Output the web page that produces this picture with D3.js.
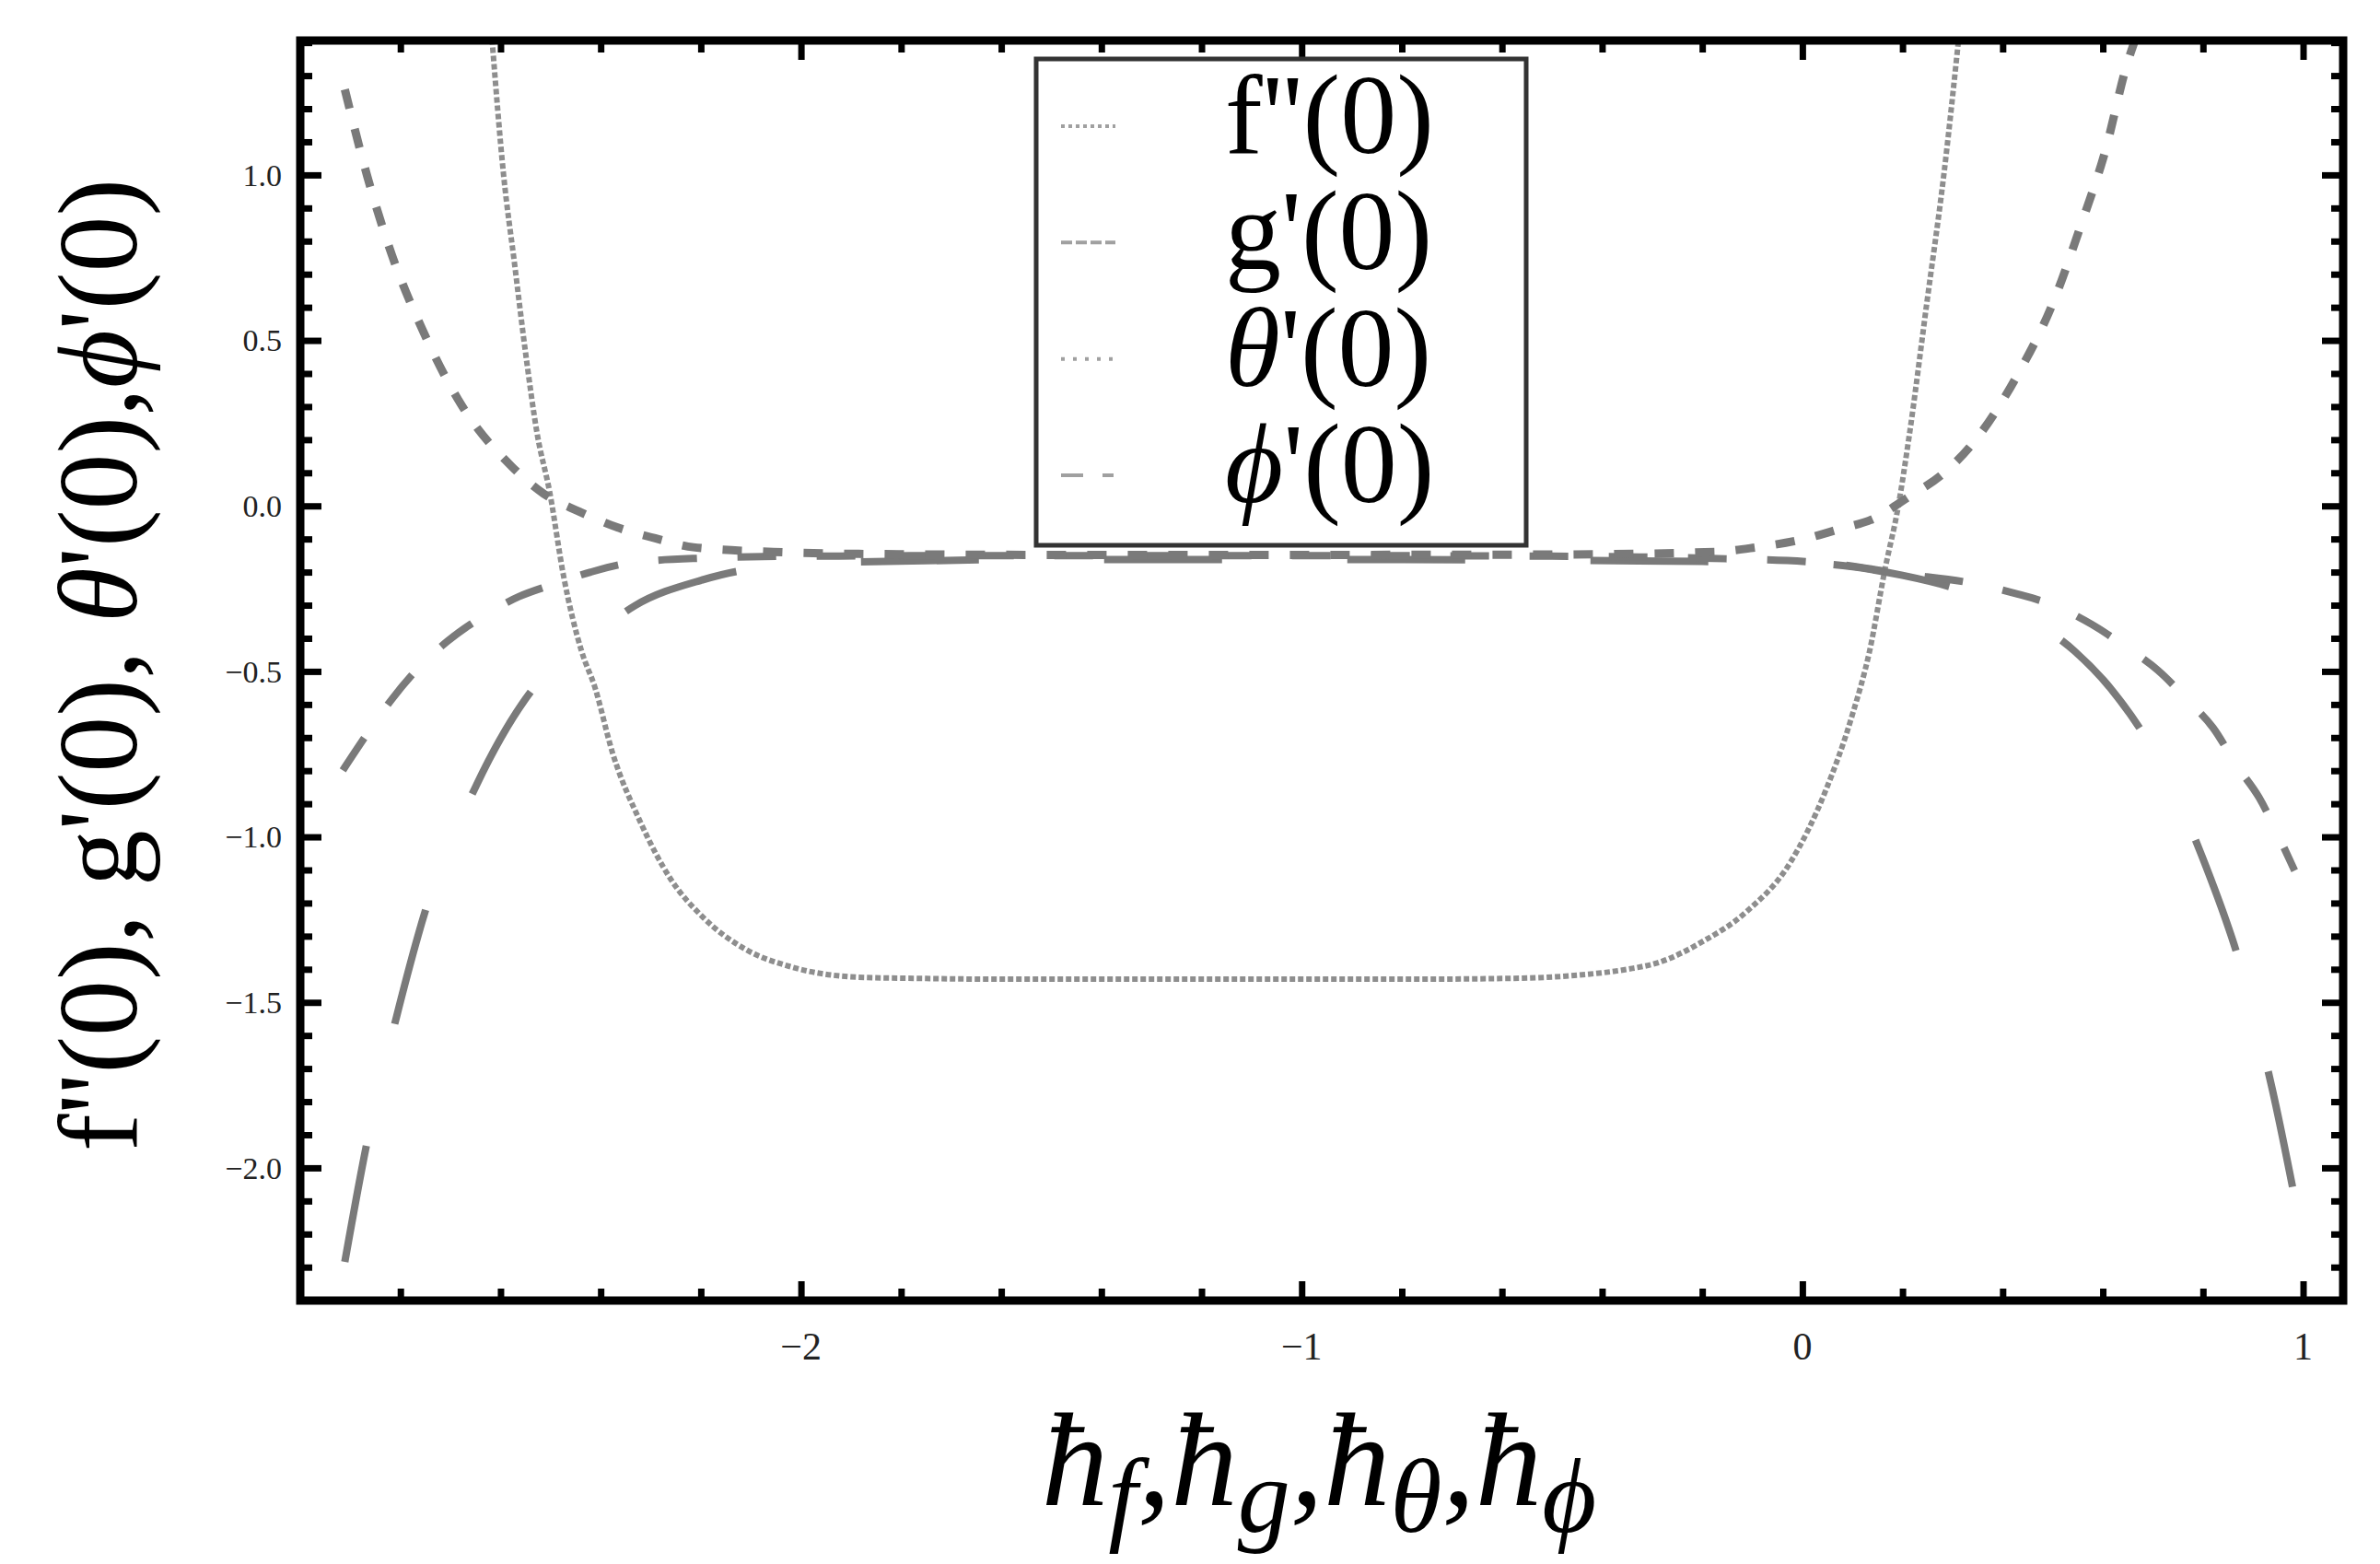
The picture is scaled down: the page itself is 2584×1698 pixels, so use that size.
<!DOCTYPE html>
<html>
<head>
<meta charset="utf-8">
<script src="https://cdn.jsdelivr.net/npm/d3@7"></script>
<style>
    html, body { margin: 0; padding: 0; background: #ffffff; }
    text { font-family: "Liberation Serif", "Times New Roman", serif; }
</style>
</head>
<body>
<svg id="chart" width="2584" height="1698"></svg>
<script>
// values (h on x, derivative at the wall on y)
const fppX = [-2.617, -2.594, -2.572, -2.550, -2.527, -2.502, -2.474, -2.438, -2.412, -2.376,
    -2.322, -2.260, -2.197, -2.108, -2.019, -1.885, -1.750, -1.600, -1.400, -1.200,
    -1.000, -0.800, -0.600, -0.450, -0.350, -0.288, -0.200, -0.113, -0.024, 0.046,
    0.099, 0.134, 0.165, 0.191, 0.213, 0.248, 0.283, 0.312];
const fppY = [1.41, 1.001, 0.731, 0.462, 0.219, 0.043, -0.213, -0.44, -0.546, -0.748,
    -0.951, -1.128, -1.241, -1.342, -1.393, -1.424, -1.428, -1.430, -1.430, -1.430,
    -1.430, -1.430, -1.428, -1.418, -1.400, -1.380, -1.317, -1.228, -1.077, -0.862,
    -0.635, -0.44, -0.191, -0.005, 0.208, 0.607, 1.007, 1.41];

const gpX = [-2.911, -2.866, -2.808, -2.746, -2.648, -2.527, -2.420, -2.331, -2.200, -2.108,
    -1.900, -1.500, -1.000, -0.500, -0.200, 0.033, 0.200, 0.327, 0.450, 0.543,
    0.620, 0.692, 0.798, 0.877, 0.939, 0.987];
const gpY = [-2.284, -1.918, -1.545, -1.203, -0.843, -0.537, -0.400, -0.301, -0.225, -0.193,
    -0.170, -0.162, -0.162, -0.164, -0.168, -0.175, -0.210, -0.260, -0.340, -0.438,
    -0.560, -0.717, -1.058, -1.399, -1.766, -2.120];

const thetaX = [-2.911, -2.866, -2.817, -2.755, -2.679, -2.577, -2.514, -2.443, -2.367, -2.291,
    -2.215, -2.055, -1.885, -1.500, -1.000, -0.500, -0.174, -0.091, -0.011, 0.072,
    0.143, 0.213, 0.279, 0.336, 0.429, 0.499, 0.556, 0.605, 0.648, 0.665];
const thetaY = [1.258, 0.995, 0.758, 0.529, 0.307, 0.118, 0.037, -0.017, -0.065, -0.098,
    -0.125, -0.139, -0.145, -0.148, -0.148, -0.147, -0.139, -0.125, -0.105, -0.071,
    -0.038, 0.028, 0.095, 0.181, 0.394, 0.608, 0.847, 1.073, 1.333, 1.41];

const phiX = [-2.915, -2.871, -2.817, -2.768, -2.706, -2.643, -2.563, -2.501, -2.420, -2.340,
    -2.200, -2.000, -1.500, -1.000, -0.500, -0.200, 0.033, 0.200, 0.354, 0.424,
    0.508, 0.578, 0.648, 0.710, 0.772, 0.820, 0.868, 0.912, 0.952, 0.983];
const phiY = [-0.799, -0.699, -0.584, -0.496, -0.409, -0.341, -0.274, -0.240, -0.200, -0.172,
    -0.158, -0.152, -0.150, -0.150, -0.152, -0.158, -0.171, -0.205, -0.238, -0.264,
    -0.304, -0.358, -0.428, -0.497, -0.591, -0.670, -0.786, -0.881, -1.001, -1.102];

const xTickValues = [-2, -1, 0, 1];
const xTickLabels = ["\u22122", "\u22121", "0", "1"];
const yTickValues = [1.0, 0.5, 0.0, -0.5, -1.0, -1.5, -2.0];
const yTickLabels = ["1.0", "0.5", "0.0", "\u22120.5", "\u22121.0", "\u22121.5", "\u22122.0"];

const legendNames = ["f''(0)", "g'(0)", "\u03b8'(0)", "\u03d5'(0)"];
const xTitleSubs = ["f", "g", "\u03b8", "\u03d5"];

const svg = d3.select("#chart");
const frame = {left: 326, top: 44, right: 2544, bottom: 1412};

const x = d3.scaleLinear().domain([-3, 1.08]).range([frame.left, frame.right]);
const y = d3.scaleLinear().domain([-2.401, 1.406]).range([frame.bottom, frame.top]);

const series = [
    {xs: fppX, ys: fppY, color: "#8e8e8e", width: 6, dash: "6,3"},
    {xs: gpX, ys: gpY, color: "#7a7a7a", width: 8, dash: "128,136"},
    {xs: phiX, ys: phiY, color: "#7a7a7a", width: 8, dash: "42,44"},
    {xs: thetaX, ys: thetaY, color: "#7a7a7a", width: 9, dash: "21,23"}
];

svg.append("defs").append("clipPath")
    .attr("id", "plotClip")
    .append("rect")
    .attr("x", frame.left)
    .attr("y", frame.top)
    .attr("width", frame.right - frame.left)
    .attr("height", frame.bottom - frame.top);

const line = d3.line()
    .x(d => x(d[0]))
    .y(d => y(d[1]))
    .curve(d3.curveMonotoneX);

svg.append("g")
    .attr("clip-path", "url(#plotClip)")
    .selectAll("path.curve")
    .data(series)
    .enter()
    .append("path")
    .attr("class", "curve")
    .attr("d", s => line(s.xs.map((v, i) => [v, s.ys[i]])))
    .attr("fill", "none")
    .attr("stroke", s => s.color)
    .attr("stroke-width", s => s.width)
    .attr("stroke-dasharray", s => s.dash);

// ticks point inwards on all four sides
function ticks(axisFn, scale, values, size, translate) {
    svg.append("g")
        .attr("transform", translate)
        .call(axisFn(scale).tickValues(values).tickSize(size).tickFormat(""))
        .call(g => g.select(".domain").remove())
        .selectAll("line")
        .attr("stroke", "#000")
        .attr("stroke-width", 7);
}

const xMinor = d3.range(-2.8, 1.01, 0.2).filter(v => Math.abs(v - Math.round(v)) > 0.01);
const yMinor = d3.range(-2.3, 1.41, 0.1).filter(v => Math.abs(v * 2 - Math.round(v * 2)) > 0.01);

ticks(d3.axisBottom, x, xTickValues, -21, `translate(0,${frame.bottom})`);
ticks(d3.axisBottom, x, xMinor, -13, `translate(0,${frame.bottom})`);
ticks(d3.axisTop, x, xTickValues, -21, `translate(0,${frame.top})`);
ticks(d3.axisTop, x, xMinor, -13, `translate(0,${frame.top})`);
ticks(d3.axisLeft, y, yTickValues, -23, `translate(${frame.left},0)`);
ticks(d3.axisLeft, y, yMinor, -13, `translate(${frame.left},0)`);
ticks(d3.axisRight, y, yTickValues, -23, `translate(${frame.right},0)`);
ticks(d3.axisRight, y, yMinor, -13, `translate(${frame.right},0)`);

svg.append("rect")
    .attr("x", frame.left)
    .attr("y", frame.top)
    .attr("width", frame.right - frame.left)
    .attr("height", frame.bottom - frame.top)
    .attr("fill", "none")
    .attr("stroke", "#000")
    .attr("stroke-width", 9);

svg.append("g")
    .selectAll("text")
    .data(xTickValues)
    .enter()
    .append("text")
    .attr("x", d => x(d))
    .attr("y", 1476)
    .attr("text-anchor", "middle")
    .attr("font-size", 42)
    .attr("fill", "#222")
    .text((d, i) => xTickLabels[i]);

svg.append("g")
    .selectAll("text")
    .data(yTickValues)
    .enter()
    .append("text")
    .attr("x", 306)
    .attr("y", d => y(d))
    .attr("dy", "0.35em")
    .attr("text-anchor", "end")
    .attr("font-size", 34)
    .attr("fill", "#222")
    .text((d, i) => yTickLabels[i]);

// axis titles
const yTitle = svg.append("text")
    .attr("transform", "translate(148,722) rotate(-90)")
    .attr("text-anchor", "middle")
    .attr("font-size", 122)
    .attr("fill", "#000");
yTitle.append("tspan").text("f''(0), g'(0), ");
yTitle.append("tspan").attr("font-style", "italic").text("\u03b8");
yTitle.append("tspan").text("'(0),");
yTitle.append("tspan").attr("font-style", "italic").text("\u03d5");
yTitle.append("tspan").text("'(0)");

const xTitle = svg.append("text")
    .attr("x", 1432)
    .attr("y", 1634)
    .attr("text-anchor", "middle")
    .attr("font-style", "italic")
    .attr("font-size", 145)
    .attr("fill", "#000");
xTitleSubs.forEach((sub, i) => {
    xTitle.append("tspan").attr("dy", i === 0 ? 0 : -29).text((i === 0 ? "" : ",") + "\u0127");
    xTitle.append("tspan").attr("dy", 29).attr("font-size", 114).text(sub);
});

// legend
const legend = svg.append("g");
legend.append("rect")
    .attr("x", 1125)
    .attr("y", 64)
    .attr("width", 532)
    .attr("height", 528)
    .attr("fill", "#fff")
    .attr("stroke", "#333")
    .attr("stroke-width", 5);

const legendDash = ["4,4", "12,4", "4,9", "24,21,12,100"];
const legendRows = d3.scaleLinear().domain([0, 3]).range([166, 545]);

legend.selectAll("line")
    .data(legendNames)
    .enter()
    .append("line")
    .attr("x1", 1152)
    .attr("x2", 1211)
    .attr("y1", (d, i) => legendRows(i) - 29)
    .attr("y2", (d, i) => legendRows(i) - 29)
    .attr("stroke", "#a0a0a0")
    .attr("stroke-width", 4)
    .attr("stroke-dasharray", (d, i) => legendDash[i]);

legend.selectAll("text")
    .data(legendNames)
    .enter()
    .append("text")
    .attr("x", 1330)
    .attr("y", (d, i) => legendRows(i))
    .attr("font-size", 122)
    .attr("fill", "#000")
    .each(function(d, i) {
        const t = d3.select(this);
        if (i >= 2) {
            t.append("tspan").attr("font-style", "italic").text(d[0]);
            t.append("tspan").text(d.slice(1));
        } else {
            t.text(d);
        }
    });
</script>
</body>
</html>
